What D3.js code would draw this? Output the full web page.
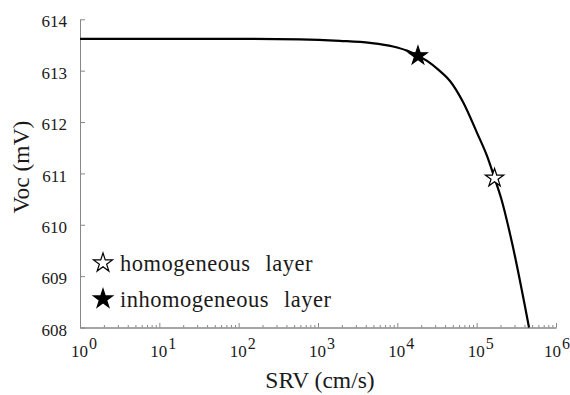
<!DOCTYPE html>
<html>
<head>
<meta charset="utf-8">
<script src="https://cdn.jsdelivr.net/npm/d3@7"></script>
<style>
  body { margin: 0; background: #fff; }
  .axis path, .axis line { stroke: #888; }
</style>
</head>
<body>
<svg id="chart" width="570" height="395"></svg>
<script>
// values
const srv = [1, 10, 104, 593, 1890, 4530, 8830, 13200, 18200, 23700, 34500, 46100, 67300, 101000, 135000, 168000, 203000, 279000, 457000]
const voc = [613.62, 613.62, 613.62, 613.61, 613.58, 613.54, 613.47, 613.39, 613.29, 613.19, 612.99, 612.80, 612.39, 611.79, 611.34, 610.91, 610.52, 609.65, 608.0]

const starSrv = [168000, 18200]
const starVoc = [610.91, 613.29]
const starNames = ["homogeneous layer", "inhomogeneous layer"]

const yTicks = [608, 609, 610, 611, 612, 613, 614]
const xExps = [0, 1, 2, 3, 4, 5, 6]

const W = 570, H = 395
const MARGIN = {left: 80, right: 14, top: 19.3, bottom: 67.5}
const FONT = "Liberation Serif"

const svg = d3.select("#chart").attr("font-family", FONT)

const x = d3.scaleLog().domain([1, 1e6]).range([MARGIN.left, W - MARGIN.right])
const y = d3.scaleLinear().domain([608, 614]).range([H - MARGIN.bottom, MARGIN.top])

// minor x ticks
let minor = []
for (let e = 0; e < 6; e++) {
  for (let m = 2; m <= 9; m++) minor.push(m * Math.pow(10, e))
}

svg.append("g")
  .attr("class", "axis")
  .attr("transform", `translate(0, ${y(608)})`)
  .call(d3.axisBottom(x).tickValues(minor).tickSize(-2.5).tickSizeOuter(0).tickFormat(""))

svg.append("g")
  .attr("class", "axis")
  .attr("transform", `translate(0, ${y(608)})`)
  .call(d3.axisBottom(x).tickValues(xExps.map(e => Math.pow(10, e))).tickSize(-4.5).tickSizeOuter(0).tickFormat(""))

svg.append("g")
  .attr("class", "axis")
  .attr("transform", `translate(${x(1)}, 0)`)
  .call(d3.axisLeft(y).tickValues(yTicks).tickSize(-5).tickSizeOuter(0).tickPadding(13).tickFormat(d3.format("d")))
  .attr("font-family", FONT)
  .attr("font-size", 17)
  .call(g => g.selectAll("text")
    .attr("dy", "0.45em")
    .attr("fill", "#1a1a1a")
    .attr("font-family", FONT))

// x tick labels 10^n
const xl = svg.append("g")
  .selectAll("text")
  .data(xExps)
  .join("text")
  .attr("x", d => Math.min(x(Math.pow(10, d)) - 9, W - 26))
  .attr("y", 357)
  .attr("fill", "#1a1a1a")
  .attr("font-family", FONT)
  .attr("font-size", 17)
xl.append("tspan").text("10")
xl.append("tspan").attr("dx", 1).attr("dy", -8).attr("font-size", 16).text(d => d)

// axis titles
svg.append("text")
  .attr("x", 320)
  .attr("y", 388)
  .attr("text-anchor", "middle")
  .attr("fill", "#1a1a1a")
  .attr("font-family", FONT)
  .attr("font-size", 23.5)
  .text("SRV (cm/s)")

svg.append("text")
  .attr("transform", `translate(29, 167) rotate(-90)`)
  .attr("text-anchor", "middle")
  .attr("fill", "#1a1a1a")
  .attr("font-family", FONT)
  .attr("font-size", 23.5)
  .text("Voc (mV)")

// curve
const line = d3.line()
  .x((d, i) => x(srv[i]))
  .y(d => y(d))
  .curve(d3.curveMonotoneX)

svg.append("path")
  .datum(voc)
  .attr("d", line)
  .attr("fill", "none")
  .attr("stroke", "#000")
  .attr("stroke-width", 2.2)

// star markers
const star = d3.symbol().type(d3.symbolStar)

svg.selectAll(".pt")
  .data(starSrv)
  .join("path")
  .attr("class", "pt")
  .attr("transform", (d, i) => `translate(${x(d)}, ${y(starVoc[i])})`)
  .attr("d", star.size(105)())
  .attr("fill", (d, i) => i === 0 ? "#fff" : "#000")
  .attr("stroke", "#000")
  .attr("stroke-width", 1.2)

// legend
const leg = svg.append("g")
  .selectAll("g")
  .data(starNames)
  .join("g")
  .attr("transform", (d, i) => `translate(103, ${263 + i * 36})`)

leg.append("path")
  .attr("d", star.size(112)())
  .attr("fill", (d, i) => i === 0 ? "#fff" : "#000")
  .attr("stroke", "#000")
  .attr("stroke-width", 1.2)

leg.append("text")
  .attr("x", 17)
  .attr("y", 7.5)
  .attr("fill", "#1a1a1a")
  .attr("font-family", FONT)
  .attr("font-size", 22.5)
  .attr("letter-spacing", "0.5px")
  .attr("word-spacing", "9px")
  .text(d => d)
</script>
</body>
</html>
